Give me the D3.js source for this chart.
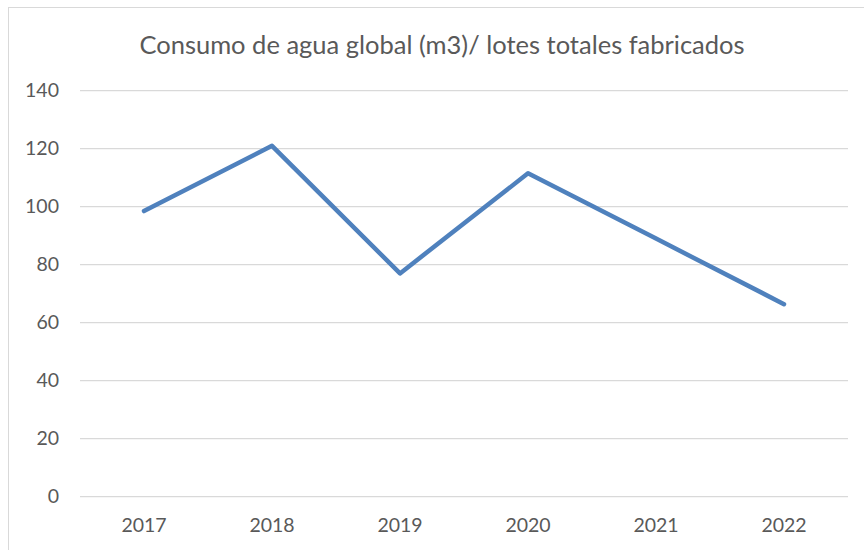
<!DOCTYPE html>
<html>
<head>
<meta charset="utf-8">
<script src="https://cdn.jsdelivr.net/npm/d3@7"></script>
<style>
  body { margin: 0; background: #fff; }
  svg text { font-family: Lato, "Open Sans", sans-serif; fill: #595959; }
</style>
</head>
<body>
<div id="chart"></div>
<script>
// data
var years = ["2017", "2018", "2019", "2020", "2021", "2022"];
var consumo = [98.5, 121.0, 77.0, 111.5, 89.0, 66.4];
var yTicks = [0, 20, 40, 60, 80, 100, 120, 140];
var title = "Consumo de agua global (m3)/ lotes totales fabricados";

var W = 864, H = 550;
var margin = {top: 90.7, right: 16, bottom: 53.3, left: 80},
    width = W - margin.left - margin.right,
    height = H - margin.top - margin.bottom;

var svg = d3.select("#chart").append("svg")
    .attr("width", W)
    .attr("height", H);

// outer chart border
svg.append("rect")
    .attr("x", 8.5).attr("y", 7.5)
    .attr("width", W).attr("height", H)
    .attr("fill", "none")
    .attr("stroke", "#d9d9d9");

svg.append("text")
    .attr("x", 442)
    .attr("y", 54)
    .attr("text-anchor", "middle")
    .attr("font-size", 25.5)
    .text(title);

var g = svg.append("g")
    .attr("transform", "translate(" + margin.left + "," + margin.top + ")");

var x = d3.scaleBand().domain(years).range([0, width]);
var y = d3.scaleLinear().domain([0, 140]).range([height, 0]);

// gridlines
g.selectAll(".grid")
    .data(yTicks)
  .enter().append("line")
    .attr("x1", 0).attr("x2", width)
    .attr("y1", function(d) { return y(d); })
    .attr("y2", function(d) { return y(d); })
    .attr("stroke", "#d9d9d9")
    .attr("stroke-width", 1.2);

// y labels
var yAxis = g.append("g")
    .call(d3.axisLeft(y).tickValues(yTicks).tickSize(0).tickPadding(21));
yAxis.select(".domain").remove();
yAxis.selectAll("text").attr("font-size", 19.5).style("font-family", null).attr("fill", null);

// x labels
var xAxis = g.append("g")
    .attr("transform", "translate(0," + height + ")")
    .call(d3.axisBottom(x).tickSize(0).tickPadding(21));
xAxis.select(".domain").remove();
xAxis.selectAll("text").attr("font-size", 19.5).style("font-family", null).attr("fill", null);

var line = d3.line()
    .x(function(d, i) { return x(years[i]) + x.bandwidth() / 2; })
    .y(function(d) { return y(d); });

g.append("path")
    .datum(consumo)
    .attr("fill", "none")
    .attr("stroke", "#4f81bd")
    .attr("stroke-width", 4.5)
    .attr("stroke-linejoin", "round")
    .attr("stroke-linecap", "round")
    .attr("d", line);
</script>
</body>
</html>
